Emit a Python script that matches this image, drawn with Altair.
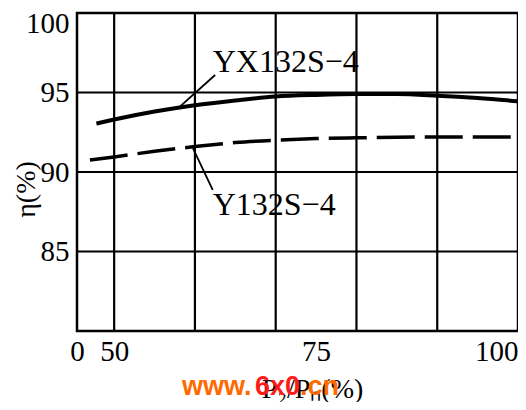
import altair as alt
import pandas as pd

# ---- data ----
x_domain = [45.4, 100]
y_domain = [80, 100]

yx_x = [47.8, 50, 55, 60, 65, 70, 75, 80, 85, 90, 95, 100]
yx_y = [93.05, 93.3, 93.8, 94.2, 94.5, 94.75, 94.85, 94.9, 94.9, 94.8, 94.65, 94.45]

y_x = [47.0, 50, 55, 60, 65, 70, 75, 80, 90, 100]
y_y = [90.75, 90.95, 91.3, 91.6, 91.85, 92.0, 92.1, 92.15, 92.2, 92.2]

grid_x = [50, 60, 70, 80, 90]
grid_y = [85, 90, 95]

x_ticks = [45.4, 50, 75, 100]
x_tick_labels = ["0", "50", "75", "100"]
y_ticks = [85, 90, 95, 100]

series_labels = ["YX132S\u22124", "Y132S\u22124"]
label_x = [62.2, 62.2]
label_y = [96.3, 87.3]
leader_x1 = [62.5, 59.75]
leader_y1 = [96.1, 91.5]
leader_x2 = [57.9, 62.2]
leader_y2 = [94.0, 88.87]

watermark_parts = ["www.", "6x0", ".cn"]
watermark_colors = ["#ff6a00", "#ff1a1a", "#ff6a00"]

FONT = "'Liberation Serif', 'Times New Roman', Times, serif"

xs = alt.Scale(domain=x_domain, nice=False, zero=False)
ys = alt.Scale(domain=y_domain, nice=False, zero=False)

x_axis = alt.Axis(
    values=x_ticks,
    labelExpr=f"datum.value < 50 ? '{x_tick_labels[0]}' : format(datum.value, 'd')",
    labelAlign={"condition": {"test": "datum.value >= 100", "value": "right"}, "value": "center"},
    ticks=False, domain=False, grid=False,
    labelFont=FONT, labelFontSize=29, labelColor="black", labelPadding=6,
    title="P\u2082/P\u2099(%)", titleFont=FONT, titleFontSize=28, titleFontWeight="normal",
    titleColor="black", titleY=66, titleBaseline="alphabetic", titleX=235,
)
y_axis = alt.Axis(
    values=y_ticks, format="d",
    ticks=False, domain=False, grid=False, labelFlush=True, labelFlushOffset=4,
    labelFont=FONT, labelFontSize=29, labelColor="black", labelPadding=8,
    title="\u03b7(%)", titleFont=FONT, titleFontSize=28, titleFontWeight="normal",
    titleColor="black", titleX=-51, titleY=176, titleAngle=270,
    titleAlign="center", titleBaseline="middle",
)

def X(field):
    return alt.X(field, type="quantitative", scale=xs, axis=x_axis)

def Y(field):
    return alt.Y(field, type="quantitative", scale=ys, axis=y_axis)

vgrid = alt.Chart(pd.DataFrame({"gx": grid_x})).mark_rule(color="black", strokeWidth=2.2).encode(x=X("gx"))
hgrid = alt.Chart(pd.DataFrame({"gy": grid_y})).mark_rule(color="black", strokeWidth=2.2).encode(y=Y("gy"))

yx_line = alt.Chart(pd.DataFrame({"x": yx_x, "y": yx_y})).mark_line(
    color="black", strokeWidth=4, interpolate="monotone"
).encode(x=X("x"), y=Y("y"))

y_line = alt.Chart(pd.DataFrame({"x": y_x, "y": y_y})).mark_line(
    color="black", strokeWidth=3.5, interpolate="monotone", strokeDash=[38, 10]
).encode(x=X("x"), y=Y("y"))

leaders = alt.Chart(pd.DataFrame({
    "x1": leader_x1, "y1": leader_y1, "x2": leader_x2, "y2": leader_y2
})).mark_rule(color="black", strokeWidth=1.8).encode(
    x=X("x1"), y=Y("y1"), x2="x2", y2="y2"
)

texts = alt.Chart(pd.DataFrame({"x": label_x, "y": label_y, "t": series_labels})).mark_text(
    font=FONT, fontSize=32, align="left", baseline="alphabetic", color="black"
).encode(x=X("x"), y=Y("y"), text="t:N")

wm_x = [105, 178, 223]
wm_layers = []
for part, col, px in zip(watermark_parts, watermark_colors, wm_x):
    wm_layers.append(
        alt.Chart(pd.DataFrame({"t": [part]})).mark_text(
            font="'Liberation Sans', Arial, sans-serif", fontWeight="bold", fontSize=27, color=col,
            align="left", baseline="alphabetic"
        ).encode(x=alt.value(px), y=alt.value(382), text="t:N")
    )

chart = alt.layer(vgrid, hgrid, yx_line, y_line, leaders, texts, *wm_layers).properties(
    width=441, height=318,
    autosize=alt.AutoSizeParams(type="none"),
    padding={"left": 69, "top": 5, "right": 0, "bottom": 71},
    background="white",
).configure_view(stroke="black", strokeWidth=2.5)

chart.save("out.html", embed_options={"renderer": "svg", "actions": False})
